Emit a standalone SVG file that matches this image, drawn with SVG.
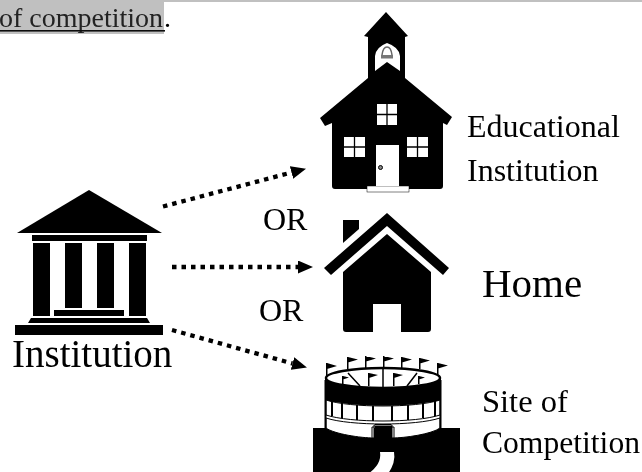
<svg xmlns="http://www.w3.org/2000/svg" width="642" height="472" viewBox="0 0 642 472">
<style>
text{font-family:"Liberation Serif","Times New Roman",serif;fill:#000}
.w{fill:#fff}
.k{fill:#000}
.kl{stroke:#000;fill:none}
.dot{stroke:#000;stroke-width:4.300;stroke-dasharray:4.500 5;fill:none}
.soft{filter:url(#soft)}
</style>
<defs>
<filter id="soft" filterUnits="userSpaceOnUse" x="0" y="0" width="642" height="472"><feGaussianBlur stdDeviation="0.45"/></filter>
<marker id="ah" markerUnits="userSpaceOnUse" markerWidth="16" markerHeight="14" refX="0" refY="6.500" orient="auto"><path d="M0 0L15 6.500L0 13Z" fill="#000"/></marker>
</defs>
<rect width="642" height="472" fill="#fff"/>
<g id="header" class="soft">
<rect x="-2" y="-2" width="646" height="4" fill="#c0c0c0"/>
<rect x="-2" y="2" width="166" height="32" fill="#c0c0c0"/>
<text x="-1" y="27" font-size="28" style="fill:#222">of competition</text>
<rect x="-2" y="30" width="167" height="1.600" fill="#111"/>
<text x="164" y="27" font-size="28">.</text>
</g>
<g id="connectors" class="soft">
<path class="dot" d="M163 206.500L291.500 172.500" marker-end="url(#ah)"/>
<path class="dot" d="M172 267L298 267" marker-end="url(#ah)"/>
<path class="dot" d="M172 330L292.500 363.500" marker-end="url(#ah)"/>
</g>
<g id="institution" class="soft">
<path class="k" d="M89 190L162 233L17 233Z"/>
<rect class="k" x="32" y="235" width="115" height="6"/>
<rect class="k" x="33" y="243" width="17" height="73"/>
<rect class="k" x="65" y="243" width="17" height="65"/>
<rect class="k" x="97" y="243" width="17" height="65"/>
<rect class="k" x="129" y="243" width="17" height="73"/>
<rect class="k" x="54" y="310" width="70" height="6"/>
<path class="k" d="M31 318L147 318L150 323L28 323Z"/>
<rect class="k" x="15" y="325" width="148" height="10"/>
<text x="12" y="367" font-size="39">Institution</text>
</g>
<g id="school" class="soft">
<path class="k" d="M386 12L408 36L405 37L405 78L452 117L447 125L443 123L443 186Q443 189 440 189L335 189Q332 189 332 186L332 123L325 126L320 118L368 78L368 37L364 36Z"/>
<path class="w" d="M375 71L375 56Q376 47 387 43Q399 47 400 56L400 71L387 62Z"/>
<path d="M382 55Q383 47 387 47Q391 47 392 55" fill="none" stroke="#666" stroke-width="1.500"/>
<rect x="381" y="55" width="12" height="3.500" fill="#777"/>
<rect class="w" x="367" y="186" width="42" height="6" stroke="#000" stroke-width=".5"/>
<rect class="w" x="376" y="145" width="23" height="41"/>
<circle cx="380.500" cy="167.500" r="2" fill="#888" stroke="#000"/>
<rect class="w" x="377" y="104" width="20" height="21"/>
<rect class="w" x="344" y="137" width="21" height="20"/>
<rect class="w" x="407" y="137" width="21" height="20"/>
<path class="kl" d="M387 104V125M377 114.500H397M354.500 137V157M344 147H365M417.500 137V157M407 147H428" stroke-width="1.300"/>
</g>
<g id="home" class="soft">
<path class="k" d="M343 220L359 220L359 229L343 243Z"/>
<path class="k" d="M387 213L449 268L443 275L387 226L331 275L324 268Z"/>
<path class="k" d="M387 234L431 272L431 329Q431 332 428 332L401 332L401 304L373 304L373 332L346 332Q343 332 343 329L343 272Z"/>
</g>
<g id="stadium" class="soft">
<rect class="k" x="313" y="428" width="147" height="46"/>
<rect class="k" x="325" y="378" width="116" height="24"/>
<ellipse cx="383" cy="378" rx="57" ry="10" fill="#fff" stroke="#000" stroke-width="2.500"/>
<path class="k" d="M325 380C345 392 421 392 441 380V399C421 408 345 408 325 399Z"/>
<path class="w" d="M326 400C350 408 416 408 440 400V415C416 423 350 423 326 415Z" stroke="#000" stroke-width="1"/>
<path class="kl" d="M332 401V416M342 403V418M357 405V420M373 406V421M392 406V421M408 405V420M423 403V418M435 401V416" stroke-width="2"/>
<path class="w" d="M326 418C350 426 416 426 440 418V428C432 434 405 438 392 438V425H374V438C361 438 334 434 326 428Z" stroke="#000" stroke-width="1"/>
<path class="k" d="M324.500 380H326.500V428H324.500ZM439.500 380H441.500V428H439.500Z"/>
<rect class="k" x="375" y="426" width="17" height="22"/>
<path class="kl" d="M372 438V427H394V438" stroke-width="1"/>
<path class="kl" d="M375 424.500H391" stroke-width="1"/>
<path class="w" d="M380 452L394 452Q396 462 388 474L368 474Q382 464 380 452Z"/>
<path class="kl" d="M348 373L360 386M417 373L407 386M383 368V388" stroke-width="1.500"/>
<path class="k" d="M326 363h1.500v14h-1.500zM327 363l10 3l-10 3zM347 357h1.500v12h-1.500zM348 357l10 2.500l-10 3zM365 356h1.500v12h-1.500zM366 356l10 2.500l-10 3zM383 356h1.500v12h-1.500zM384 356l10 2.500l-10 3zM401 357h1.500v11h-1.500zM402 357l10 2.500l-10 3zM419 358h1.500v11h-1.500zM420 358l10 2.500l-10 3zM437 363h1.500v13h-1.500zM438 363l10 2.500l-10 3zM368 373h1.500v13h-1.500zM369 373l9 2l-9 3zM393 373h1.500v13h-1.500zM394 373l9 2l-9 3zM342 376h1.500v8h-1.500zM343 376l6 1.500l-6 2zM418 376h1.500v8h-1.500zM419 376l6 1.500l-6 2z"/>
</g>
<g id="labels" class="soft">
<text x="263" y="230" font-size="32">OR</text>
<text x="259" y="321" font-size="32">OR</text>
<text x="467" y="137" font-size="32">Educational</text>
<text x="467" y="181" font-size="32">Institution</text>
<text x="482" y="297" font-size="41">Home</text>
<text x="482" y="412" font-size="32.500">Site of</text>
<text x="482" y="453" font-size="31.600">Competition</text>
</g>
</svg>
